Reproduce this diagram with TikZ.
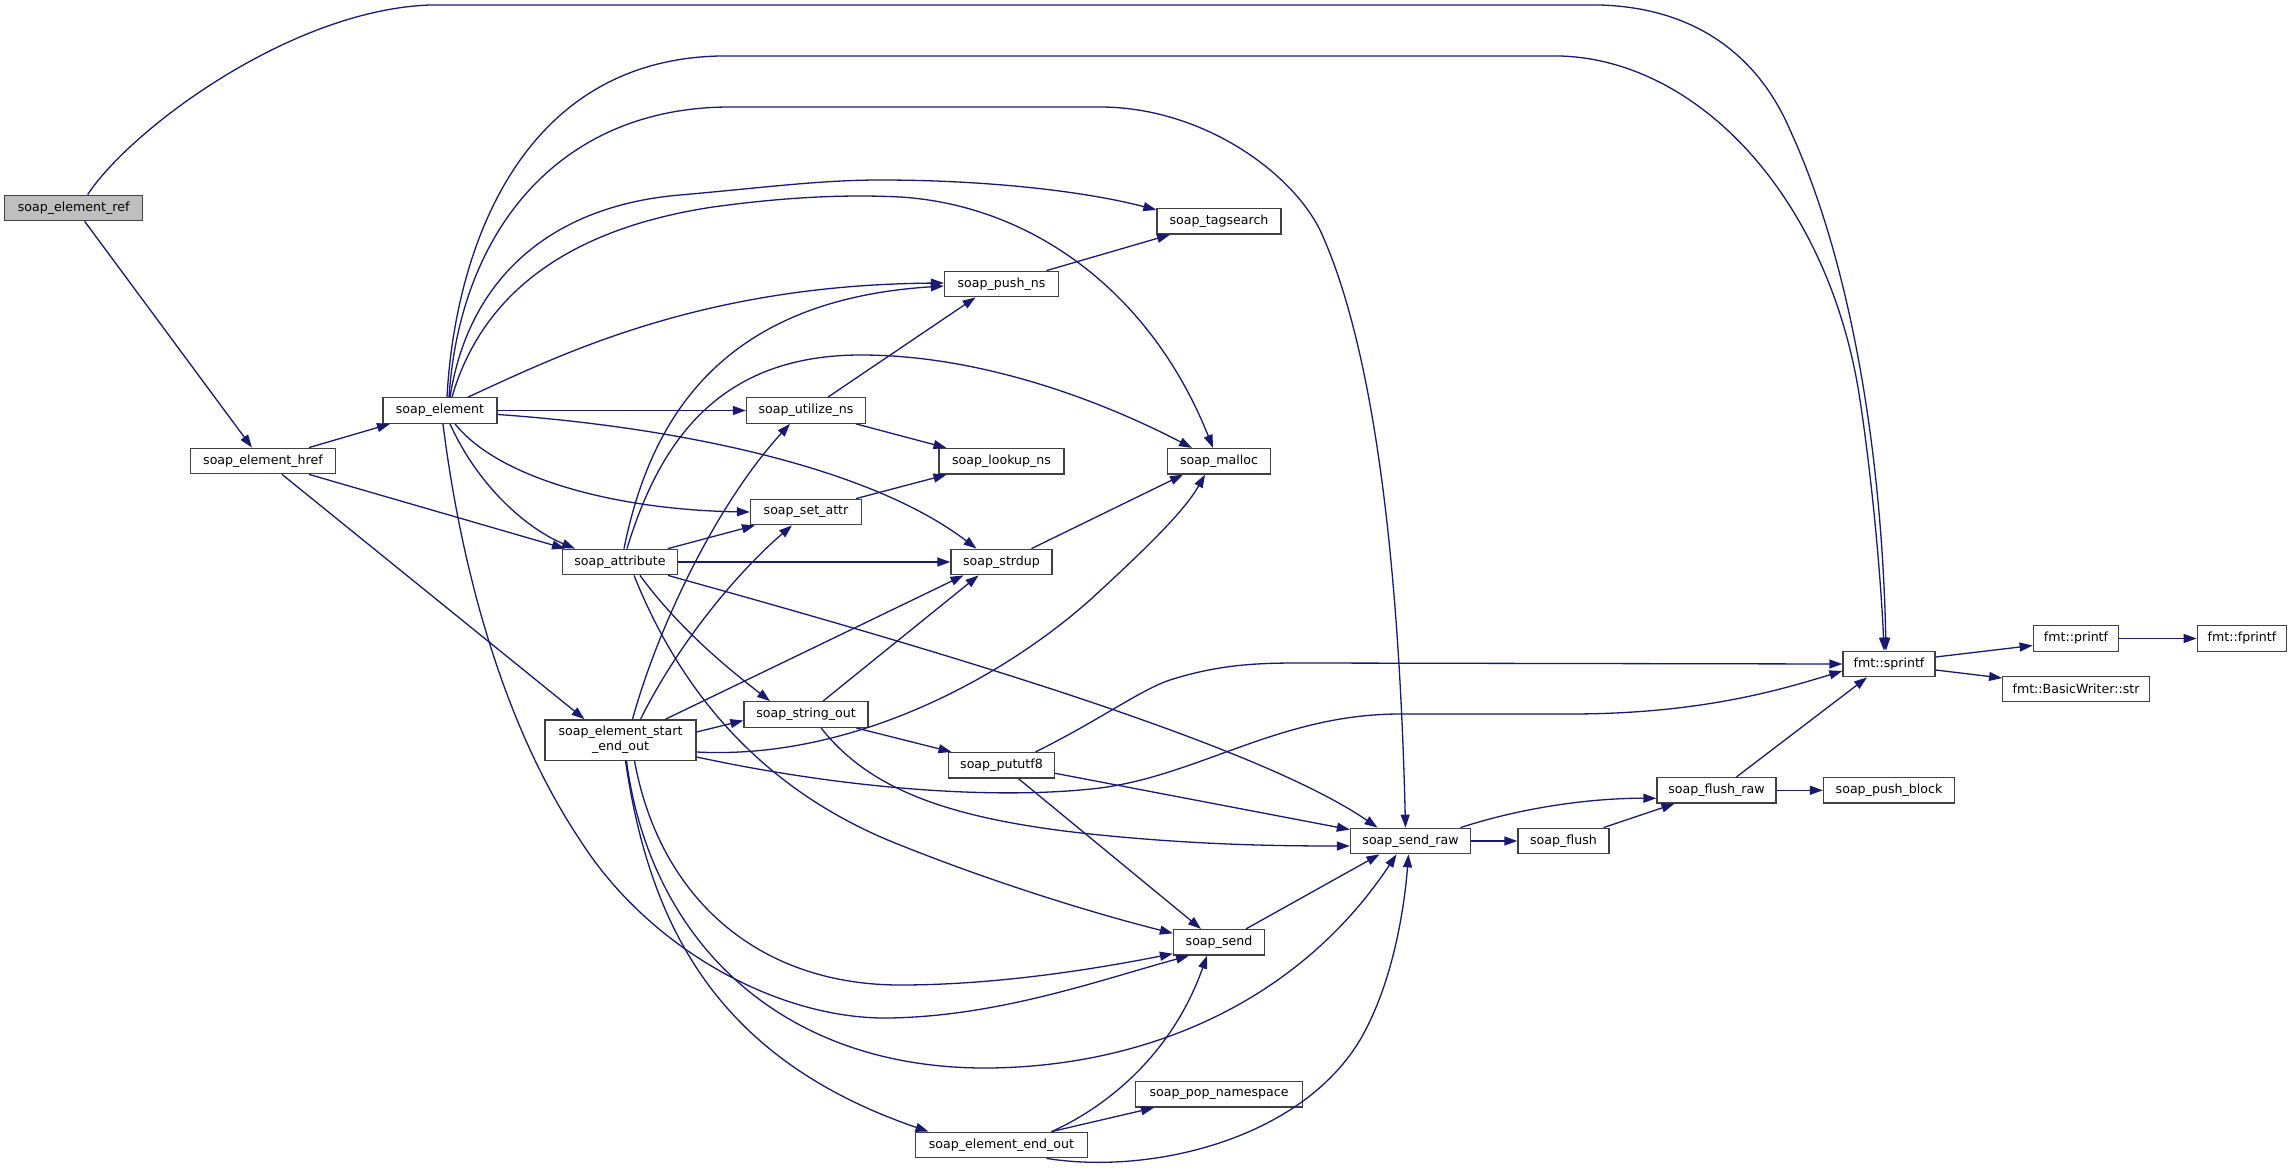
\documentclass[tikz,border=0pt]{standalone}
\usepackage{fontspec}
\setmainfont{DejaVu Sans}
\usetikzlibrary{arrows.meta}
\definecolor{edgecol}{HTML}{191970}
\definecolor{rootfill}{HTML}{BFBFBF}
\begin{document}
\begin{tikzpicture}[x=1pt,y=-1pt,
  fn/.style={draw=black!75, line width=1.3pt, fill=white, inner sep=0pt, minimum height=25.5pt, font=\fontsize{12.6}{15}\selectfont, text=black},
  call/.style={draw=edgecol, line width=1.3pt, -{Triangle[length=13pt,width=9pt]}}]
\useasboundingbox (0,0) rectangle (2292,1169);
\fill[white] (0,0) rectangle (2292,1169);
% nodes
\node[fn, fill=rootfill, minimum width=138pt] (ref) at (73.7,208) {soap\_element\_ref};
\node[fn, minimum width=145pt] (href) at (263,461) {soap\_element\_href};
\node[fn, minimum width=114pt] (elem) at (440,410.5) {soap\_element};
\node[fn, minimum width=115pt] (attr) at (620,562) {soap\_attribute};
\node[fn, minimum width=151pt, minimum height=40.3pt, align=center] (seo) at (620.5,740) {soap\_element\_start\\\_end\_out};
\node[fn, minimum width=119pt] (utilize) at (806,410.5) {soap\_utilize\_ns};
\node[fn, minimum width=111pt] (setattr) at (806,512) {soap\_set\_attr};
\node[fn, minimum width=124pt] (stringout) at (806,714.5) {soap\_string\_out};
\node[fn, minimum width=114pt] (pushns) at (1001.5,284) {soap\_push\_ns};
\node[fn, minimum width=125pt] (lookup) at (1001.5,461.3) {soap\_lookup\_ns};
\node[fn, minimum width=101pt] (strdup) at (1001.5,562) {soap\_strdup};
\node[fn, minimum width=106pt] (pututf8) at (1001.5,765.3) {soap\_pututf8};
\node[fn, minimum width=172pt] (endout) at (1001.5,1145) {soap\_element\_end\_out};
\node[fn, minimum width=124pt] (tagsearch) at (1219,221.3) {soap\_tagsearch};
\node[fn, minimum width=103pt] (malloc) at (1219,461.3) {soap\_malloc};
\node[fn, minimum width=91pt] (send) at (1219,942.3) {soap\_send};
\node[fn, minimum width=167pt] (popns) at (1219,1094.3) {soap\_pop\_namespace};
\node[fn, minimum width=120pt] (sendraw) at (1410.5,841) {soap\_send\_raw};
\node[fn, minimum width=91pt] (flush) at (1563.5,841) {soap\_flush};
\node[fn, minimum width=119pt] (flushraw) at (1716.5,790.3) {soap\_flush\_raw};
\node[fn, minimum width=92pt] (sprintf) at (1889,664) {fmt::sprintf};
\node[fn, minimum width=131pt] (pushblock) at (1889,790.3) {soap\_push\_block};
\node[fn, minimum width=85.5pt] (printf) at (2076,638.5) {fmt::printf};
\node[fn, minimum width=146.5pt] (bwstr) at (2076,689) {fmt::BasicWriter::str};
\node[fn, minimum width=89.5pt] (fprintf) at (2242,638.5) {fmt::fprintf};
% edges
\draw[call] ([xshift=14pt]ref.north) .. controls (130,130) and (290,10) .. (430,5) -- (1600,5) .. controls (1700,8) and (1760,60) .. (1790,130) .. controls (1850,260) and (1882,450) .. ([xshift=-3pt]sprintf.north);
\draw[call] ([xshift=11pt]ref.south) -- ([xshift=-11pt]href.north);
\draw[call] ([xshift=46pt]href.north) -- ([xshift=-50pt]elem.south);
\draw[call] ([xshift=46pt]href.south) -- ([xshift=-55pt]attr.north);
\draw[call] ([xshift=19pt]href.south) -- ([xshift=-36pt]seo.north);
% soap_element
\draw[call] ([xshift=7pt]elem.north) .. controls (455,250) and (520,60) .. (720,56) -- (1560,56) .. controls (1700,60) and (1830,200) .. (1860,400) .. controls (1875,500) and (1882,600) .. ([xshift=-5pt]sprintf.north);
\draw[call] ([xshift=9pt]elem.north) .. controls (460,230) and (560,107) .. (730,107) -- (1100,107) .. controls (1200,107) and (1290,170) .. (1320,230) .. controls (1380,360) and (1400,600) .. ([xshift=-5pt]sendraw.north);
\draw[call] ([xshift=10pt]elem.north) .. controls (470,270) and (560,205) .. (680,195) .. controls (760,188) and (820,180) .. (880,180) .. controls (980,180) and (1080,190) .. ([yshift=-2pt]tagsearch.north west);
\draw[call] ([xshift=12pt]elem.north) .. controls (480,300) and (560,230) .. (713,207) .. controls (800,195) and (860,195) .. (900,197) .. controls (1030,205) and (1150,290) .. ([xshift=-6pt]malloc.north);
\draw[call] ([xshift=28pt]elem.north) .. controls (560,355) and (700,285) .. ([yshift=1pt]pushns.west);
\draw[call] (elem.east) -- (utilize.west);
\draw[call] ([yshift=-4pt]elem.east) .. controls (650,425) and (860,460) .. ([xshift=-25pt]strdup.north);
\draw[call] ([xshift=15pt]elem.south) .. controls (500,480) and (620,510) .. (setattr.west);
\draw[call] ([xshift=10pt]elem.south) .. controls (480,490) and (530,530) .. ([xshift=-45pt]attr.north);
\draw[call] ([xshift=3pt]elem.south) .. controls (460,560) and (500,720) .. (580,840) .. controls (650,950) and (780,1020) .. (890,1018) .. controls (1000,1016) and (1100,980) .. ([xshift=-30pt]send.south);
% soap_attribute
\draw[call] ([xshift=4pt]attr.north) .. controls (650,420) and (720,300) .. ([yshift=-2pt]pushns.west);
\draw[call] ([xshift=7pt]attr.north) .. controls (660,440) and (720,355) .. (861,355) .. controls (980,355) and (1100,400) .. ([xshift=-27pt]malloc.north);
\draw[call] ([xshift=48pt]attr.north) -- ([xshift=-51pt]setattr.south);
\draw[call] (attr.east) -- (strdup.west);
\draw[call] ([xshift=20pt]attr.south) .. controls (680,630) and (730,670) .. ([xshift=-36pt]stringout.north);
\draw[call] ([xshift=48pt]attr.south) .. controls (900,640) and (1250,740) .. ([xshift=-33pt]sendraw.north);
\draw[call] ([xshift=14pt]attr.south) .. controls (680,690) and (760,790) .. (900,845) .. controls (1000,885) and (1100,915) .. ([yshift=9pt]send.west);
% soap_element_start_end_out
\draw[call] ([xshift=12pt]seo.north) .. controls (660,620) and (720,500) .. ([xshift=-16pt]utilize.south);
\draw[call] ([xshift=20pt]seo.north) .. controls (680,640) and (740,570) .. ([xshift=-14pt]setattr.south);
\draw[call] ([xshift=45pt]seo.north) -- ([xshift=-38pt]strdup.south);
\draw[call] ([yshift=8pt]seo.east) -- ([yshift=-6pt]stringout.west);
\draw[call] ([yshift=-12pt]seo.east) .. controls (850,760) and (1000,680) .. (1090,600) .. controls (1150,545) and (1185,510) .. ([xshift=-14pt]malloc.south);
\draw[call] ([yshift=-17pt]seo.east) .. controls (850,790) and (1000,800) .. (1100,788) .. controls (1200,775) and (1280,714) .. (1400,714) -- (1570,714) .. controls (1700,714) and (1780,690) .. ([yshift=-7pt]sprintf.west);
\draw[call] ([xshift=14pt]seo.south) .. controls (660,900) and (760,985) .. (900,985) .. controls (1000,985) and (1100,968) .. ([yshift=2pt]send.south west);
\draw[call] ([xshift=6pt]seo.south) .. controls (650,940) and (780,1070) .. (990,1068) .. controls (1150,1066) and (1300,1000) .. ([xshift=-14pt]sendraw.south);
\draw[call] ([xshift=5pt]seo.south) .. controls (650,930) and (720,1060) .. ([xshift=-73pt]endout.north);
% soap_string_out
\draw[call] ([xshift=17pt]stringout.north) -- ([xshift=-23pt]strdup.south);
\draw[call] ([xshift=50pt]stringout.south) -- ([xshift=-50pt]pututf8.north);
\draw[call] ([xshift=15pt]stringout.south) .. controls (870,790) and (950,820) .. (1100,835) .. controls (1200,845) and (1280,846) .. ([yshift=-5pt]sendraw.west);
% others
\draw[call] ([xshift=22pt]utilize.north) -- ([xshift=-26pt]pushns.south);
\draw[call] ([xshift=50pt]utilize.south) -- ([xshift=-55pt]lookup.north);
\draw[call] ([xshift=50pt]setattr.north) -- ([xshift=-55pt]lookup.south);
\draw[call] ([xshift=45pt]pushns.north) -- ([xshift=-49pt]tagsearch.south);
\draw[call] ([xshift=30pt]strdup.north) -- ([xshift=-36pt]malloc.south);
\draw[call] ([xshift=34pt]pututf8.north) .. controls (1100,720) and (1140,690) .. (1170,680) .. controls (1220,664) and (1260,663) .. (1300,663) -- (sprintf.west);
\draw[call] ([yshift=-8pt]pututf8.east) -- ([yshift=-2pt]sendraw.north west);
\draw[call] ([xshift=17pt]pututf8.south) -- ([xshift=-18pt]send.north);
\draw[call] ([xshift=27pt]send.north) -- ([xshift=-31pt]sendraw.south);
\draw[call] ([xshift=50pt]endout.north) .. controls (1100,1110) and (1170,1060) .. ([xshift=-12pt]send.south);
\draw[call] ([xshift=50pt]endout.north) -- ([xshift=-65pt]popns.south);
\draw[call] ([xshift=45pt]endout.south) .. controls (1150,1175) and (1300,1140) .. (1360,1040) .. controls (1395,980) and (1405,900) .. ([xshift=-2pt]sendraw.south);
\draw[call] (sendraw.east) -- (flush.west);
\draw[call] ([xshift=50pt]sendraw.north) .. controls (1530,805) and (1600,798) .. ([yshift=-8pt]flushraw.west);
\draw[call] ([xshift=40pt]flush.north) -- ([xshift=-42pt]flushraw.south);
\draw[call] ([xshift=20pt]flushraw.north) -- ([xshift=-22pt]sprintf.south);
\draw[call] (flushraw.east) -- (pushblock.west);
\draw[call] ([yshift=7pt]sprintf.east) -- ([yshift=-7pt]printf.west);
\draw[call] ([yshift=-6pt]sprintf.east) -- ([yshift=11pt]bwstr.west);
\draw[call] (printf.east) -- (fprintf.west);
\end{tikzpicture}
\end{document}
